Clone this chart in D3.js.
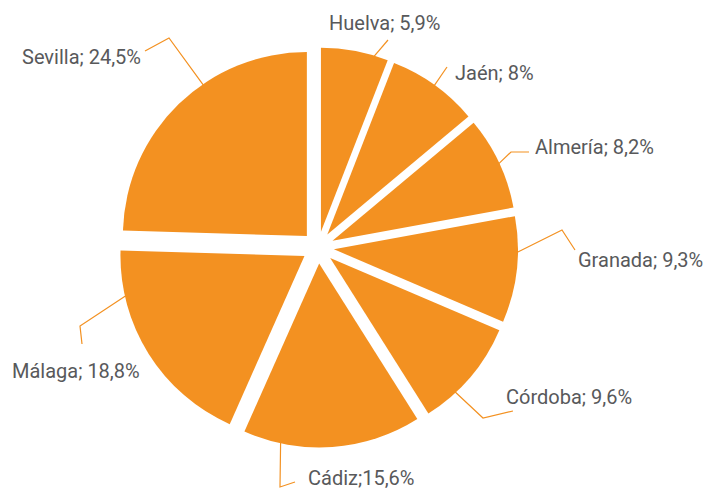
<!DOCTYPE html>
<html>
<head>
<meta charset="utf-8">
<script src="https://cdn.jsdelivr.net/npm/d3@7"></script>
<style>
    body { margin: 0; background: #fff; }
    svg text { font-family: Roboto, "Open Sans", sans-serif; font-size: 20px; fill: #58595b; }
</style>
</head>
<body>
<svg id="chart" width="703" height="490"></svg>
<script>
// slices, clockwise from 12 o'clock
var provinces = ["Huelva", "Jaén", "Almería", "Granada", "Córdoba", "Cádiz", "Málaga", "Sevilla"];
var shares = [5.9, 8, 8.2, 9.3, 9.6, 15.6, 18.8, 24.5];
var labels = ["Huelva; 5,9%", "Jaén; 8%", "Almería; 8,2%", "Granada; 9,3%", "Córdoba; 9,6%", "Cádiz;15,6%", "Málaga; 18,8%", "Sevilla; 24,5%"];

// label layout: text anchor, leader end near text, elbow, where on the slice arc the leader lands (0..1)
var labelXY = [[329, 30], [455, 80], [535, 154], [578, 267], [506, 404], [308, 485], [12, 378], [22, 64]];
var leaderEnd = [[388, 40], [447, 67], [529, 152], [575, 250], [513, 411], [295, 482], [82, 344], [145, 51]];
var leaderElbow = [[388, 40], [447, 67], [511, 152], [562, 230], [483, 418], [280, 487], [80, 326], [169, 38]];
var leaderAt = [0.79, 0.5, 0.51, 0.34, 0.69, 0.79, 0.79, 0.61];

var cx = 318, cy = 247.5, radius = 184, explode = 16;
var orange = "#f39121";

function draw() {
    var svg = d3.select("#chart");
    var g = svg.append("g").attr("transform", "translate(" + cx + "," + cy + ")");

    var pie = d3.pie().sort(null).value(function(d) { return d; });
    var arcs = pie(shares);
    var arc = d3.arc().innerRadius(0).outerRadius(radius);

    // each slice pushed out along its bisector
    function offset(a) {
        var mid = (a.startAngle + a.endAngle) / 2;
        return [explode * Math.sin(mid), -explode * Math.cos(mid)];
    }

    g.selectAll("path.slice")
        .data(arcs)
        .enter().append("path")
        .attr("class", "slice")
        .attr("d", arc)
        .attr("fill", orange)
        .attr("transform", function(a) {
            var o = offset(a);
            return "translate(" + o[0] + "," + o[1] + ")";
        });

    var line = d3.line();
    svg.selectAll("path.leader")
        .data(arcs)
        .enter().append("path")
        .attr("class", "leader")
        .attr("fill", "none")
        .attr("stroke", orange)
        .attr("stroke-width", 1.2)
        .attr("d", function(a, i) {
            var o = offset(a);
            var ang = a.startAngle + leaderAt[i] * (a.endAngle - a.startAngle);
            var p = [cx + o[0] + (radius - 1) * Math.sin(ang), cy + o[1] - (radius - 1) * Math.cos(ang)];
            return line([p, leaderElbow[i], leaderEnd[i]]);
        });

    svg.selectAll("text.lbl")
        .data(labels)
        .enter().append("text")
        .attr("class", "lbl")
        .attr("x", function(d, i) { return labelXY[i][0]; })
        .attr("y", function(d, i) { return labelXY[i][1]; })
        .text(function(d) { return d; });
}

draw();
</script>
</body>
</html>
